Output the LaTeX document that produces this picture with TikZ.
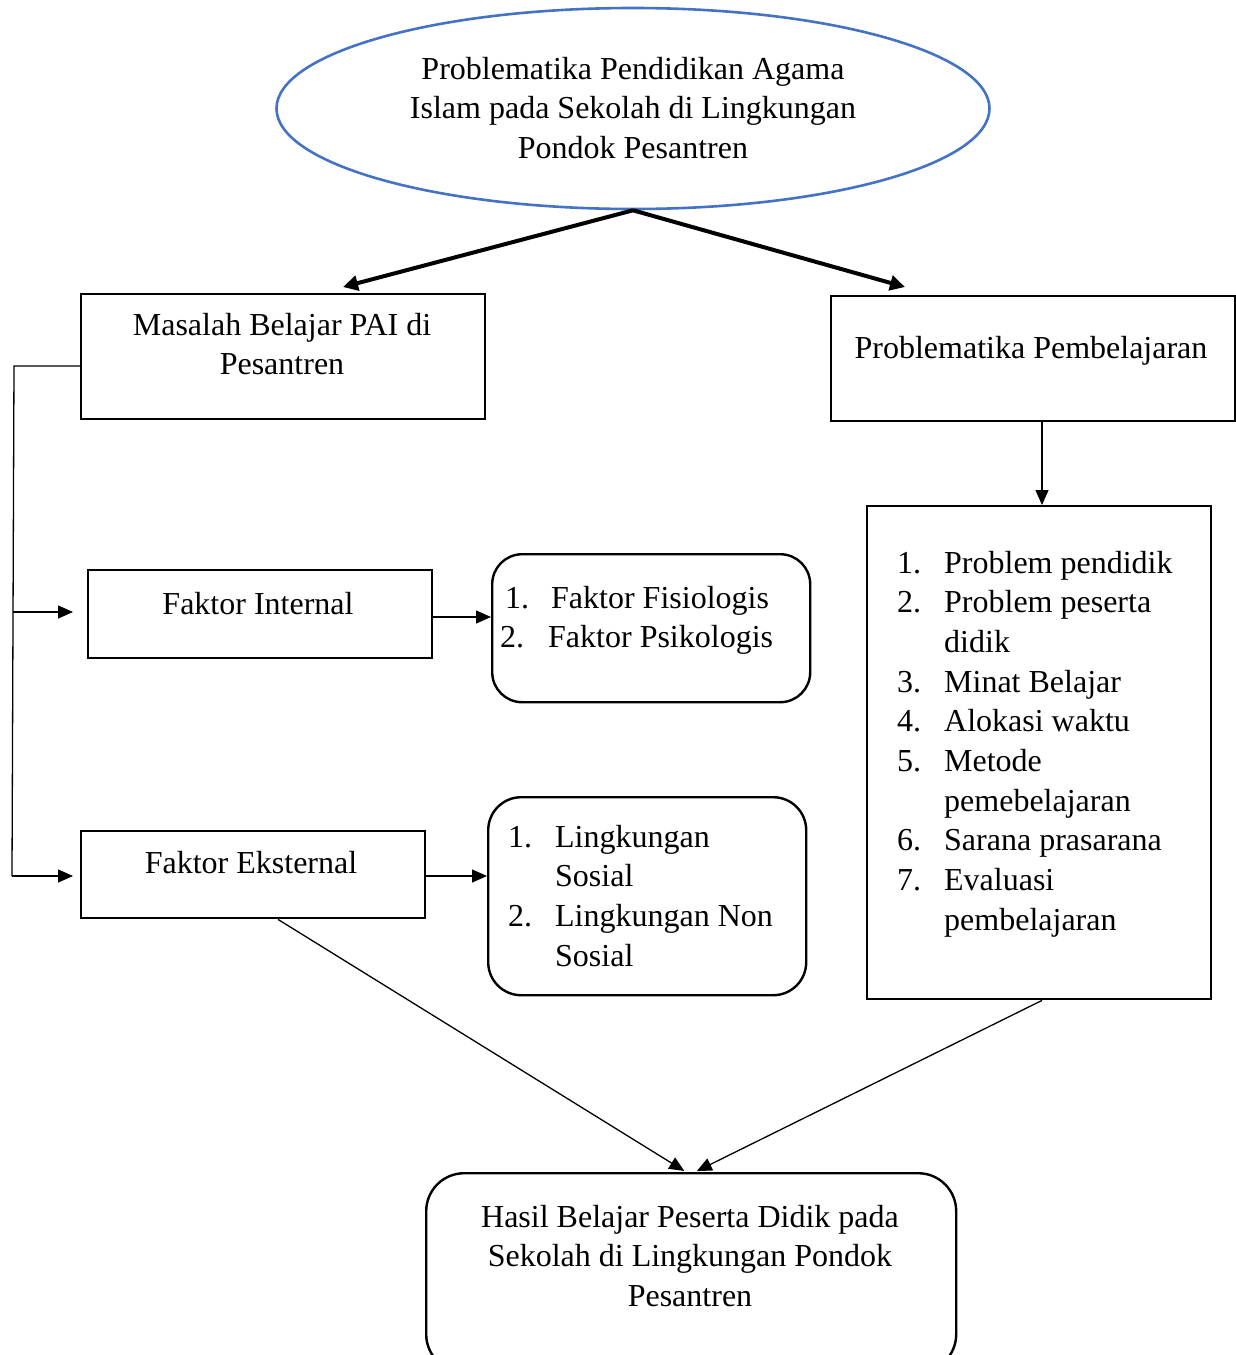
\documentclass[tikz,border=0pt]{standalone}
\usepackage{fontspec}
\setmainfont{Liberation Serif}
\usetikzlibrary{arrows.meta,shapes.geometric}
\definecolor{ellblue}{RGB}{68,114,196}
\newcommand{\numbox}[1]{\makebox[47pt][l]{#1}}
\newcommand{\lines}[1]{\begin{tabular}[t]{@{}c@{}}#1\end{tabular}}
\newcommand{\llines}[1]{\begin{tabular}[t]{@{}l@{}}#1\end{tabular}}
\begin{document}
\begin{tikzpicture}[x=1pt,y=-1pt,
  every node/.style={font=\fontsize{32}{39.7}\selectfont},
  box/.style={draw, line width=2.4pt, inner sep=0, anchor=north west},
  rbox/.style={box, rounded corners=#1},
  txt/.style={inner sep=0, anchor=base},
  ltxt/.style={inner sep=0, anchor=base west},
  conn/.style={line width=1.3pt, -{Triangle[length=15pt,width=13pt]}},
  thick conn/.style={line width=4pt, -{Triangle[length=15pt,width=15pt]}}]
\useasboundingbox (0,0) rectangle (1236,1355);
\clip (0,0) rectangle (1236,1355);
% top ellipse
\node[draw=ellblue, line width=2.6pt, ellipse, minimum width=713pt, minimum height=201pt, inner sep=0] (top) at (633,108.5) {};
\node[txt] (toptxt) at (633,79) {\lines{Problematika Pendidikan Agama\\Islam pada Sekolah di Lingkungan\\Pondok Pesantren}};
% boxes
\node[box, minimum width=404pt, minimum height=125pt] (mas) at (80,293) {};
\node[txt] (mastxt) at (282,335) {\lines{Masalah Belajar PAI di\\Pesantren}};
\node[box, minimum width=404pt, minimum height=125pt] (pp) at (830,295) {};
\node[txt] (pptxt) at (1031,358) {Problematika Pembelajaran};
\node[box, minimum width=344pt, minimum height=493pt] (list) at (866,505) {};
\node[ltxt] (listtxt) at (897,573) {\llines{\numbox{1.}Problem pendidik\\
 \numbox{2.}Problem peserta\\
 \numbox{}didik\\
 \numbox{3.}Minat Belajar\\
 \numbox{4.}Alokasi waktu\\
 \numbox{5.}Metode\\
 \numbox{}pemebelajaran\\
 \numbox{6.}Sarana prasarana\\
 \numbox{7.}Evaluasi\\
 \numbox{}pembelajaran}};
\node[box, minimum width=344pt, minimum height=88pt] (int) at (87,569) {};
\node[txt] (inttxt) at (258,614) {Faktor Internal};
\node[rbox=30pt, minimum width=318pt, minimum height=148pt] (r1) at (491,553) {};
\node[ltxt] (r1txt) at (500,608) {\llines{\hspace*{5pt}\makebox[46pt][l]{1.}Faktor Fisiologis\\
 \makebox[48pt][l]{2.}Faktor Psikologis}};
\node[box, minimum width=344pt, minimum height=87pt] (eks) at (80,830) {};
\node[txt] (ekstxt) at (251,873) {Faktor Eksternal};
\node[rbox=33pt, minimum width=318pt, minimum height=198pt] (r2) at (487,796) {};
\node[ltxt] (r2txt) at (508,847) {\llines{\numbox{1.}Lingkungan\\
 \numbox{}Sosial\\
 \numbox{2.}Lingkungan Non\\
 \numbox{}Sosial}};
\node[rbox=38pt, minimum width=530pt, minimum height=199pt] (hasil) at (425,1172) {};
\node[txt] (hasiltxt) at (690,1227) {\lines{Hasil Belajar Peserta Didik pada\\Sekolah di Lingkungan Pondok\\Pesantren}};
% coordinates
\coordinate (la) at (343,287);
\coordinate (ra) at (905,287);
\coordinate (mw) at (80,366);
\coordinate (lt) at (14,366);
\coordinate (lm) at (13,612);
\coordinate (lb) at (12,876);
\coordinate (ar) at (1042,0);
\coordinate (y617) at (0,617);
\coordinate (y876) at (0,876);
\coordinate (s1) at (278,0);
\coordinate (s2) at (1042,0);
\coordinate (e1) at (686,0);
\coordinate (e2) at (695,0);
% connectors
\draw[thick conn] (top.south) -- (la);
\draw[thick conn] (top.south) -- (ra);
\draw[line width=1.3pt] (mw) -- (lt) -- (lb);
\draw[conn, shorten >=7pt] (lb) -- (lb -| eks.west);
\draw[conn, shorten >=14pt] (lm) -- (lm -| int.west);
\draw[conn] (int.east |- y617) -- (r1.west |- y617);
\draw[conn] (eks.east |- y876) -- (r2.west |- y876);
\draw[conn] (pp.south -| ar) -- (list.north -| ar);
\draw[conn, shorten >=2pt] (eks.south -| s1) -- (hasil.north -| e1);
\draw[conn, shorten >=2pt] (list.south -| s2) -- (hasil.north -| e2);
\end{tikzpicture}
\end{document}
